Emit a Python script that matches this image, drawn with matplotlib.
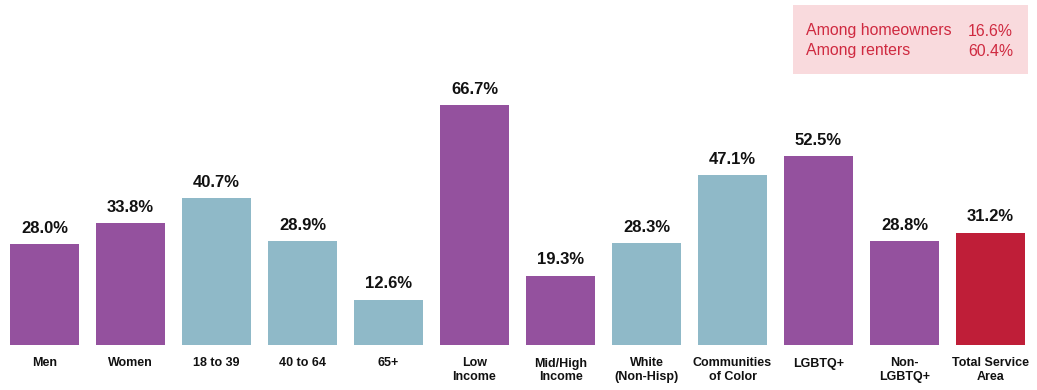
import matplotlib.pyplot as plt
from matplotlib.patches import Rectangle

# data
categories = ['Men', 'Women', '18 to 39', '40 to 64', '65+', 'Low\nIncome',
              'Mid/High\nIncome', 'White\n(Non-Hisp)', 'Communities\nof Color',
              'LGBTQ+', 'Non-\nLGBTQ+', 'Total Service\nArea']
values = [28.0, 33.8, 40.7, 28.9, 12.6, 66.7, 19.3, 28.3, 47.1, 52.5, 28.8, 31.2]
groups = ['p', 'p', 't', 't', 't', 'p', 'p', 't', 't', 'p', 'p', 'r']
box_labels = ['Among homeowners', 'Among renters']
box_values = ['16.6%', '60.4%']

colors = {'p': '#94519E', 't': '#8FB9C8', 'r': '#BF1E38'}
font = 'Liberation Sans'

fig = plt.figure(figsize=(10.37, 3.9), dpi=100)
ax = fig.add_axes([10 / 1037, 45 / 390, 1015 / 1037, 345 / 390])

x = range(len(values))
ax.bar(x, values, width=0.8, color=[colors[g] for g in groups])
ax.set_xlim(-0.4, len(values) - 0.6)
ax.set_ylim(0, 345 / 3.6)

for i, v in enumerate(values):
    ax.annotate(f'{v:.1f}%', (i, v), xytext=(0, 6), textcoords='offset points',
                ha='center', va='bottom', fontsize=12, fontweight='bold',
                family=font, color='#111111')

ax.set_xticks(list(x))
ax.set_xticklabels(categories, fontsize=9, fontweight='bold', family=font,
                   linespacing=1.15, color='#111111')
ax.tick_params(axis='x', length=0, pad=9)
ax.set_yticks([])
for s in ax.spines.values():
    s.set_visible(False)

# info box
fig.patches.append(Rectangle((793 / 1037, 1 - 74 / 390), 235 / 1037, 69 / 390,
                             transform=fig.transFigure, facecolor='#F9DADD',
                             edgecolor='none', zorder=0))
for j, (lab, val) in enumerate(zip(box_labels, box_values)):
    yy = 1 - (31 + 20 * j) / 390
    fig.text(806 / 1037, yy, lab, fontsize=11.4, family=font,
             color='#CF2A40', va='center', ha='left')
    fig.text(1013 / 1037, yy, val, fontsize=11.4, family=font,
             color='#CF2A40', va='center', ha='right')

fig.savefig('out.png', dpi=100)
